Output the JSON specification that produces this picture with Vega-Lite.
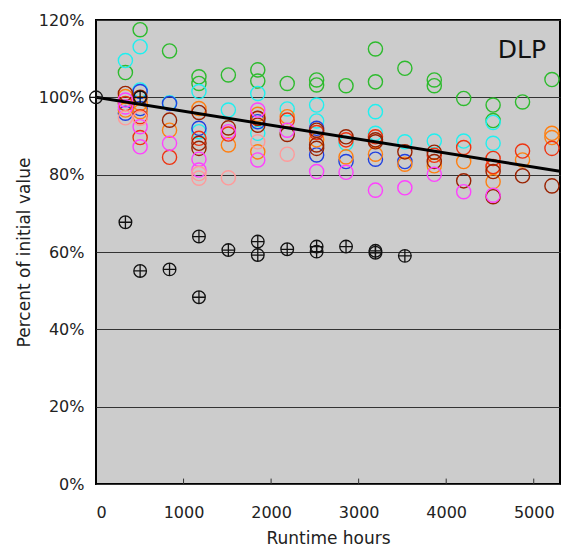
{
  "$schema": "https://vega.github.io/schema/vega-lite/v6.json",
  "width": 464,
  "height": 464,
  "autosize": {"type": "none"},
  "padding": {"left": 96, "top": 20, "right": 21, "bottom": 68},
  "background": "white",
  "config": {
    "font": "DejaVu Sans",
    "view": {"fill": "#cccccc", "stroke": "#000000", "strokeWidth": 2}
  },
  "datasets": {
    "pts": [
      {"s":"green","t":336,"v":106.4},{"s":"green","t":504,"v":117.5},{"s":"green","t":840,"v":112},{"s":"green","t":1176,"v":105.3},{"s":"green","t":1176,"v":103.6},{"s":"green","t":1512,"v":105.8},{"s":"green","t":1848,"v":107.1},{"s":"green","t":1848,"v":104.2},{"s":"green","t":2184,"v":103.6},{"s":"green","t":2520,"v":104.5},{"s":"green","t":2520,"v":103.2},{"s":"green","t":2856,"v":103},{"s":"green","t":3192,"v":112.5},{"s":"green","t":3192,"v":104},{"s":"green","t":3528,"v":107.5},{"s":"green","t":3864,"v":104.5},{"s":"green","t":3864,"v":103},{"s":"green","t":4200,"v":99.7},{"s":"green","t":4536,"v":98},{"s":"green","t":4536,"v":94},{"s":"green","t":4872,"v":98.8},{"s":"green","t":5208,"v":104.6},
      {"s":"cyan","t":336,"v":109.5},{"s":"cyan","t":504,"v":113.1},{"s":"cyan","t":504,"v":101.9},{"s":"cyan","t":840,"v":98.6},{"s":"cyan","t":1176,"v":101.5},{"s":"cyan","t":1176,"v":91.1},{"s":"cyan","t":1512,"v":96.7},{"s":"cyan","t":1848,"v":101},{"s":"cyan","t":1848,"v":90.7},{"s":"cyan","t":2184,"v":97},{"s":"cyan","t":2520,"v":98},{"s":"cyan","t":2520,"v":93.9},{"s":"cyan","t":2856,"v":88.1},{"s":"cyan","t":3192,"v":96.3},{"s":"cyan","t":3192,"v":90.7},{"s":"cyan","t":3528,"v":88.5},{"s":"cyan","t":3864,"v":88.7},{"s":"cyan","t":4200,"v":88.7},{"s":"cyan","t":4536,"v":93.5},{"s":"cyan","t":4536,"v":88.1},
      {"s":"blue","t":336,"v":95.9},{"s":"blue","t":504,"v":101.5},{"s":"blue","t":504,"v":97.1},{"s":"blue","t":840,"v":98.4},{"s":"blue","t":1176,"v":92},{"s":"blue","t":1848,"v":93.7},{"s":"blue","t":2520,"v":92},{"s":"blue","t":2520,"v":85.1},{"s":"blue","t":2856,"v":83.4},{"s":"blue","t":3192,"v":84},{"s":"blue","t":3528,"v":83.4},
      {"s":"orange","t":336,"v":100.2},{"s":"orange","t":336,"v":96.7},{"s":"orange","t":504,"v":98.4},{"s":"orange","t":504,"v":96.3},{"s":"orange","t":840,"v":91.5},{"s":"orange","t":1176,"v":97.1},{"s":"orange","t":1512,"v":87.7},{"s":"orange","t":1848,"v":95.6},{"s":"orange","t":1848,"v":85.9},{"s":"orange","t":2184,"v":95},{"s":"orange","t":2520,"v":89},{"s":"orange","t":2856,"v":84.6},{"s":"orange","t":3192,"v":85.3},{"s":"orange","t":3528,"v":82.7},{"s":"orange","t":3864,"v":82.3},{"s":"orange","t":4200,"v":83.4},{"s":"orange","t":4536,"v":82},{"s":"orange","t":4536,"v":78.2},{"s":"orange","t":4872,"v":83.8},{"s":"orange","t":5208,"v":90.7},{"s":"orange","t":5208,"v":89.6},
      {"s":"red","t":336,"v":98.4},{"s":"red","t":504,"v":95},{"s":"red","t":504,"v":89.6},{"s":"red","t":840,"v":84.5},{"s":"red","t":1176,"v":89.4},{"s":"red","t":1512,"v":90.5},{"s":"red","t":1848,"v":94.5},{"s":"red","t":2184,"v":94.1},{"s":"red","t":2520,"v":90.9},{"s":"red","t":2856,"v":89},{"s":"red","t":3192,"v":89.8},{"s":"red","t":3864,"v":85},{"s":"red","t":4200,"v":87},{"s":"red","t":4536,"v":84.2},{"s":"red","t":4536,"v":82.1},{"s":"red","t":4872,"v":86.1},{"s":"red","t":5208,"v":86.8},
      {"s":"darkred","t":336,"v":101},{"s":"darkred","t":504,"v":100},{"s":"darkred","t":840,"v":94.1},{"s":"darkred","t":1176,"v":96.1},{"s":"darkred","t":1176,"v":88.1},{"s":"darkred","t":1176,"v":86.8},{"s":"darkred","t":1512,"v":92.1},{"s":"darkred","t":1848,"v":94.6},{"s":"darkred","t":1848,"v":92.8},{"s":"darkred","t":2184,"v":90.4},{"s":"darkred","t":2520,"v":91.5},{"s":"darkred","t":2520,"v":87.7},{"s":"darkred","t":2520,"v":86.8},{"s":"darkred","t":2856,"v":89.8},{"s":"darkred","t":3192,"v":89},{"s":"darkred","t":3192,"v":88.5},{"s":"darkred","t":3528,"v":85.9},{"s":"darkred","t":3864,"v":85.8},{"s":"darkred","t":3864,"v":83.4},{"s":"darkred","t":4200,"v":78.4},{"s":"darkred","t":4536,"v":80.8},{"s":"darkred","t":4536,"v":74.3},{"s":"darkred","t":4872,"v":79.7},{"s":"darkred","t":5208,"v":77.1},
      {"s":"magenta","t":336,"v":99.3},{"s":"magenta","t":336,"v":97.5},{"s":"magenta","t":504,"v":92.4},{"s":"magenta","t":504,"v":87.2},{"s":"magenta","t":840,"v":88.1},{"s":"magenta","t":1176,"v":84},{"s":"magenta","t":1176,"v":81.2},{"s":"magenta","t":1512,"v":91.1},{"s":"magenta","t":1848,"v":96.7},{"s":"magenta","t":1848,"v":83.8},{"s":"magenta","t":2184,"v":91.5},{"s":"magenta","t":2520,"v":80.8},{"s":"magenta","t":2856,"v":80.6},{"s":"magenta","t":3192,"v":76},{"s":"magenta","t":3528,"v":76.6},{"s":"magenta","t":3864,"v":80.1},{"s":"magenta","t":4200,"v":75.6},{"s":"magenta","t":4536,"v":74.7},
      {"s":"pink","t":336,"v":94.7},{"s":"pink","t":504,"v":94.6},{"s":"pink","t":1176,"v":80.3},{"s":"pink","t":1176,"v":79.1},{"s":"pink","t":1512,"v":79.2},{"s":"pink","t":1848,"v":88.5},{"s":"pink","t":2184,"v":85.3}
    ],
    "cross": [
      {"t":0,"v":100},{"t":504,"v":100},{"t":336,"v":67.7},{"t":504,"v":55.1},{"t":840,"v":55.5},{"t":1176,"v":64},{"t":1176,"v":48.3},{"t":1512,"v":60.5},{"t":1848,"v":62.7},{"t":1848,"v":59.2},{"t":2184,"v":60.7},{"t":2520,"v":61.4},{"t":2520,"v":60.1},{"t":2856,"v":61.4},{"t":3192,"v":60.3},{"t":3192,"v":59.8},{"t":3528,"v":59}
    ],
    "fit": [{"t":0,"v":100},{"t":5300,"v":80.9}],
    "xticks": [{"t":1000},{"t":2000},{"t":3000},{"t":4000},{"t":5000}],
    "lbl": [{"t":5140,"v":112.2,"txt":"DLP"}]
  },
  "layer": [
    {
      "data": {"name": "xticks"},
      "mark": {"type": "rule", "color": "#333333", "strokeWidth": 1},
      "encoding": {
        "x": {"field": "t", "type": "quantitative"},
        "y": {"datum": 0},
        "y2": {"datum": 1.4}
      }
    },
    {
      "data": {"name": "pts"},
      "mark": {"type": "point", "shape": "circle", "filled": false, "size": 200, "strokeWidth": 1.4, "opacity": 1},
      "encoding": {
        "x": {
          "field": "t", "type": "quantitative",
          "scale": {"domain": [0, 5300], "nice": false, "zero": false},
          "axis": {
            "values": [0, 1000, 2000, 3000, 4000, 5000],
            "format": "d",
            "title": "Runtime hours",
            "grid": false,
            "domain": false,
            "ticks": false,
            "labelFontSize": 16,
            "labelColor": "#222",
            "labelPadding": 20,
            "titleFontSize": 17,
            "titleFontWeight": "normal",
            "titleColor": "#222",
            "titlePadding": 10
          }
        },
        "y": {
          "field": "v", "type": "quantitative",
          "scale": {"domain": [0, 120], "nice": false, "zero": false},
          "axis": {
            "values": [0, 20, 40, 60, 80, 100, 120],
            "labelExpr": "datum.label + '%'",
            "title": "Percent of initial value",
            "grid": true,
            "gridColor": "#333",
            "gridWidth": 1,
            "domain": false,
            "ticks": false,
            "labelFontSize": 16,
            "labelColor": "#222",
            "labelPadding": 12,
            "titleFontSize": 17,
            "titleFontWeight": "normal",
            "titleColor": "#222",
            "titlePadding": 5
          }
        },
        "color": {
          "field": "s", "type": "nominal",
          "scale": {
            "domain": ["green","cyan","blue","orange","red","darkred","magenta","pink"],
            "range": ["#2dbb2d","#1ff0f0","#2040e0","#ff7f10","#ee3310","#9a2200","#ff40ff","#ff9a9a"]
          },
          "legend": null
        }
      }
    },
    {
      "data": {"name": "fit"},
      "mark": {"type": "line", "color": "#000000", "strokeWidth": 3, "clip": true},
      "encoding": {
        "x": {"field": "t", "type": "quantitative"},
        "y": {"field": "v", "type": "quantitative"}
      }
    },
    {
      "data": {"name": "cross"},
      "mark": {"type": "point", "shape": "M-1,0A1,1,0,1,0,1,0A1,1,0,1,0,-1,0ZM-1,0L1,0M0,-1L0,1", "filled": false, "size": 160, "strokeWidth": 1.3, "color": "#111111", "opacity": 1},
      "encoding": {
        "x": {"field": "t", "type": "quantitative"},
        "y": {"field": "v", "type": "quantitative"}
      }
    },
    {
      "data": {"name": "lbl"},
      "mark": {"type": "text", "fontSize": 25, "align": "right", "baseline": "middle", "color": "#111"},
      "encoding": {
        "x": {"field": "t", "type": "quantitative"},
        "y": {"field": "v", "type": "quantitative"},
        "text": {"field": "txt"}
      }
    }
  ]
}
